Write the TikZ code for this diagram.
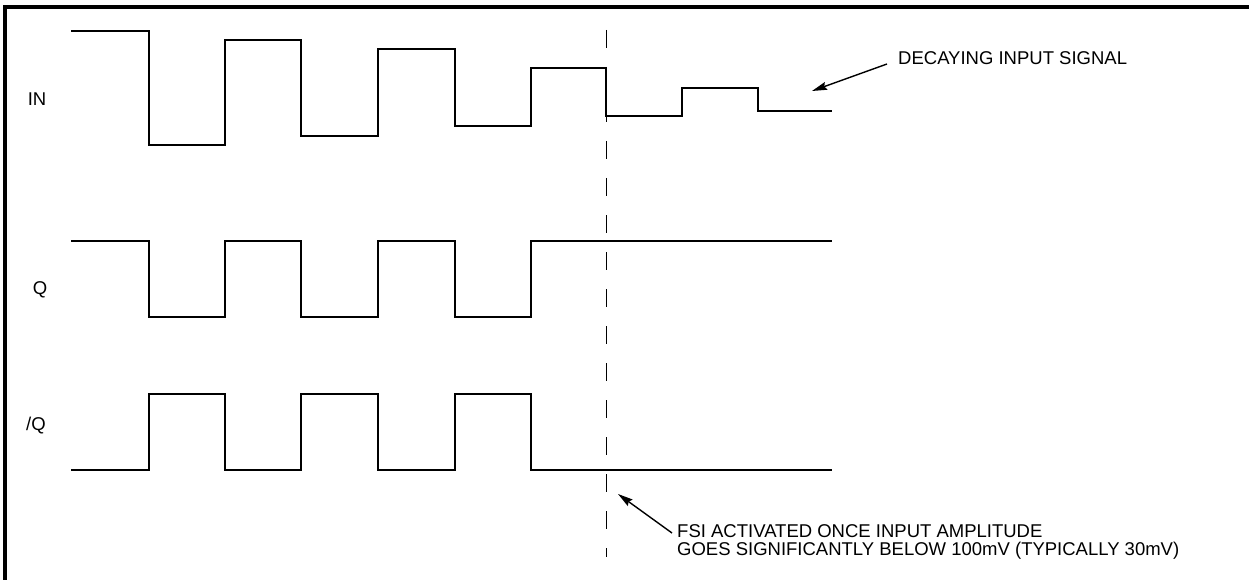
\documentclass[tikz,border=0pt]{standalone}
\usepackage{fontspec}
\setmainfont{Liberation Sans}
\usetikzlibrary{arrows.meta}
\begin{document}
\begin{tikzpicture}[x=1pt,y=-1pt,
  wave/.style={line width=2.4pt,line join=miter,line cap=butt},
  frameline/.style={line width=3.2pt},
  marker/.style={line width=0.9pt,dash pattern=on 18pt off 19pt},
  pointer/.style={line width=1.4pt,-{Stealth[length=15pt,width=8pt,inset=2pt]}},
  lbl/.style={inner sep=0pt,font=\fontsize{18.5}{18}\selectfont},
  note/.style={inner sep=0pt,align=left,font=\fontsize{18.5}{18.5}\selectfont}]
\path[use as bounding box] (0,0) rectangle (1249,580);
% frame (only top and left edges visible)
\draw[frameline] (5,7) -- (1249,7);
\draw[frameline] (5,5.4) -- (5,580);
% labels
\node[lbl] (lin) at (37,99) {IN};
\node[lbl] (lq) at (40,290) {Q};
\node[lbl] (lnq) at (36,426) {/Q};
% IN waveform
\draw[wave] (71,31) -- (149,31) -- (149,145) -- (225,145) -- (225,40) -- (301,40)
  -- (301,136) -- (378,136) -- (378,49) -- (455,49) -- (455,126) -- (531,126)
  -- (531,68) -- (606,68) -- (606,116) -- (682,116) -- (682,88) -- (758,88)
  -- (758,111) -- (832,111);
% Q waveform
\draw[wave] (71,241) -- (149,241) -- (149,317) -- (225,317) -- (225,241) -- (301,241)
  -- (301,317) -- (378,317) -- (378,241) -- (455,241) -- (455,317) -- (531,317)
  -- (531,241) -- (832,241);
% /Q waveform
\draw[wave] (71,470) -- (149,470) -- (149,394) -- (225,394) -- (225,470) -- (301,470)
  -- (301,394) -- (378,394) -- (378,470) -- (455,470) -- (455,394) -- (531,394)
  -- (531,470) -- (832,470);
% dashed marker
\coordinate (mtop) at (606,30);
\coordinate (mbot) at (606,557);
\draw[marker] (mtop) -- (mbot);
% annotations
\node[lbl,anchor=west] (dec) at (898,58) {DECAYING INPUT SIGNAL};
\coordinate (dectail) at (887,64);
\coordinate (dectip) at (812,91);
\draw[pointer] (dectail) -- (dectip);
\node[note,anchor=north west] (fsi) at (677,524) {FSI ACTIVATED ONCE INPUT AMPLITUDE\\GOES SIGNIFICANTLY BELOW 100mV (TYPICALLY 30mV)};
\coordinate (fsitail) at (672,533);
\coordinate (fsitip) at (618,494);
\draw[pointer] (fsitail) -- (fsitip);
\end{tikzpicture}
\end{document}
